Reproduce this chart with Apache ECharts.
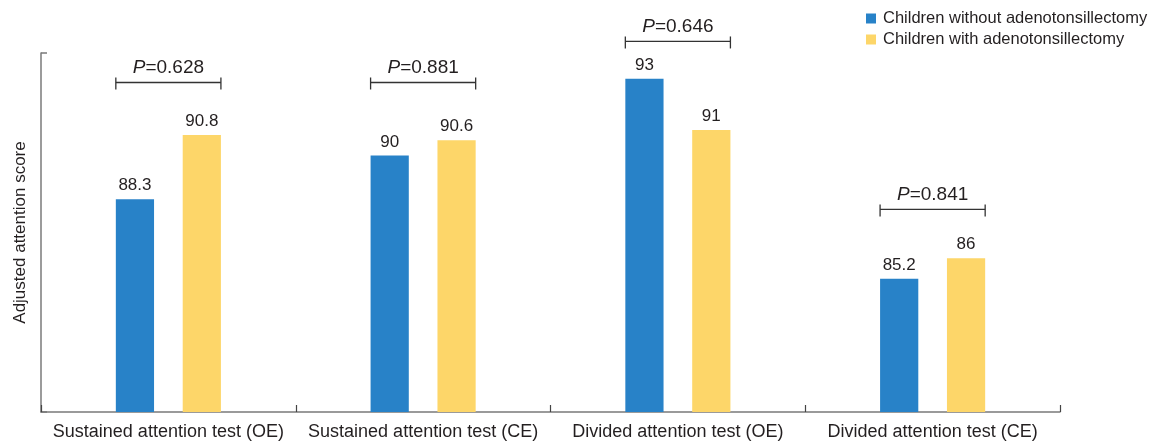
<!DOCTYPE html>
<html>
<head>
<meta charset="utf-8">
<script src="https://cdn.jsdelivr.net/npm/echarts@6/dist/echarts.min.js"></script>
<style>
html,body{margin:0;padding:0;background:#fff;}
#main{width:1156px;height:442px;}
</style>
</head>
<body>
<div id="main"></div>
<script>
var categories = ['Sustained attention test (OE)', 'Sustained attention test (CE)', 'Divided attention test (OE)', 'Divided attention test (CE)'];
var withoutValues = [88.3, 90, 93, 85.2];
var withValues = [90.8, 90.6, 91, 86];
var seriesNames = ['Children without adenotonsillectomy', 'Children with adenotonsillectomy'];
var pValues = ['0.628', '0.881', '0.646', '0.841'];
var bracketLevels = [92.85, 92.85, 94.45, 87.9];
var yName = 'Adjusted attention score';

var FONT = '"Liberation Sans", Arial, sans-serif';
var BLUE = '#2882C8';
var YELLOW = '#FDD669';
var BAR_W = 0.15, GAP = 0.75;

var chart = echarts.init(document.getElementById('main'));
var bracketData = categories.map(function (c, i) { return [i, bracketLevels[i], pValues[i]]; });

chart.setOption({
  animation: false,
  textStyle: { fontFamily: FONT },
  grid: { left: 41, right: 96, top: 53, bottom: 30, containLabel: false, outerBoundsMode: 'none' },
  legend: {
    orient: 'vertical', left: 861, top: 5, itemWidth: 10, itemHeight: 10, itemGap: 4,
    icon: 'rect',
    textStyle: { fontSize: 16.5, color: '#231f20', fontFamily: FONT, padding: [0, 0, 0, 2] },
    data: seriesNames
  },
  xAxis: {
    type: 'category', data: categories,
    axisLine: { lineStyle: { color: '#7a7a7a', width: 1.5 } },
    axisTick: { show: true, inside: true, length: 7, alignWithLabel: false, lineStyle: { color: '#444', width: 1.2 } },
    axisLabel: { fontSize: 18, color: '#231f20', margin: 11, fontFamily: FONT, interval: 0 }
  },
  yAxis: {
    type: 'value', min: 80, max: 94, interval: 14,
    name: yName, nameLocation: 'middle', nameGap: 12,
    nameTextStyle: { fontSize: 17, color: '#231f20', fontFamily: FONT },
    axisLine: { show: true, lineStyle: { color: '#7a7a7a', width: 1.5 } },
    axisTick: { show: true, inside: true, length: 6, lineStyle: { color: '#7a7a7a', width: 1.5 } },
    axisLabel: { show: false },
    splitLine: { show: false }
  },
  series: [
    {
      name: seriesNames[0], type: 'bar', data: withoutValues,
      barWidth: (BAR_W * 100) + '%', barGap: (GAP * 100) + '%',
      itemStyle: { color: BLUE },
      label: { show: true, position: 'top', distance: 5, fontSize: 17, color: '#231f20', fontFamily: FONT }
    },
    {
      name: seriesNames[1], type: 'bar', data: withValues,
      barWidth: (BAR_W * 100) + '%', barGap: (GAP * 100) + '%',
      itemStyle: { color: YELLOW },
      label: { show: true, position: 'top', distance: 5, fontSize: 17, color: '#231f20', fontFamily: FONT }
    },
    {
      type: 'custom', data: bracketData, clip: false, silent: true,
      encode: { x: 0, y: 1 },
      renderItem: function (params, api) {
        var pt = api.coord([api.value(0), api.value(1)]);
        var band = api.size([1, 0])[0];
        var bw = band * BAR_W;
        var half = bw + bw * GAP / 2;
        var x1 = pt[0] - half, x2 = pt[0] + half, y = pt[1];
        var st = { stroke: '#333', lineWidth: 1.3 };
        return {
          type: 'group',
          children: [
            { type: 'line', shape: { x1: x1, y1: y, x2: x2, y2: y }, style: st },
            { type: 'line', shape: { x1: x1, y1: y - 5, x2: x1, y2: y + 7 }, style: st },
            { type: 'line', shape: { x1: x2, y1: y - 5, x2: x2, y2: y + 7 }, style: st },
            {
              type: 'text',
              style: {
                x: pt[0], y: y - 15, align: 'center', verticalAlign: 'middle',
                text: '{i|P}{n|=' + api.value(2) + '}',
                rich: {
                  i: { fontStyle: 'italic', fontSize: 19, fill: '#231f20', fontFamily: FONT },
                  n: { fontSize: 19, fill: '#231f20', fontFamily: FONT }
                }
              }
            }
          ]
        };
      }
    }
  ]
});
</script>
</body>
</html>
